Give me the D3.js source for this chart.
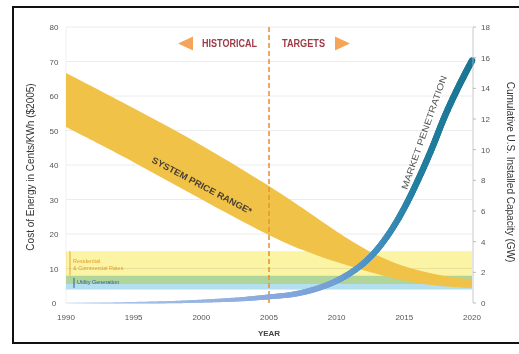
<!DOCTYPE html>
<html><head><meta charset="utf-8">
<script src="https://cdnjs.cloudflare.com/ajax/libs/d3/7.8.5/d3.min.js"></script>
<style>
html,body{margin:0;padding:0;background:#fff;}
svg{display:block;}
text{font-family:"Liberation Sans Narrow","Liberation Sans",Arial,sans-serif;}
</style></head>
<body><svg id="c" width="519" height="354"></svg>
<script>
// ---- data ----
const years = [1990, 1995, 2000, 2005, 2007.5, 2010, 2012.5, 2015, 2017.5, 2020];
const priceHigh = [66.7, 56.5, 46, 34, 27.5, 20.6, 14.5, 10.3, 8.0, 6.8];
const priceLow  = [51, 41, 30, 19.5, 15.2, 11.8, 8.8, 6.3, 4.9, 4.3];

const mktYears = [1990, 1993, 1995, 1998, 2000, 2003, 2005, 2007, 2008, 2009, 2010, 2011, 2012, 2013, 2014, 2015, 2016, 2017, 2018, 2019, 2020];
const mktGW    = [0, 0, 0.02, 0.06, 0.12, 0.25, 0.4, 0.6, 0.8, 1.08, 1.45, 1.95, 2.6, 3.5, 4.7, 6.2, 8.0, 10.0, 12.2, 14.1, 15.8];

const rateBands = [
  {name: "Residential & Commercial Rates", lo: 5.5, hi: 15},
  {name: "Utility Generation", lo: 3.9, hi: 7.9}
];
const leftTicks = [0, 10, 20, 30, 40, 50, 60, 70, 80];
const rightTicks = [0, 2, 4, 6, 8, 10, 12, 14, 16, 18];
const xTicks = [1990, 1995, 2000, 2005, 2010, 2015, 2020];
const splitYear = 2005;

// ---- scales ----
const svg = d3.select("#c");
const x = d3.scaleLinear().domain([1990, 2020]).range([66, 472]);
const yL = d3.scaleLinear().domain([0, 80]).range([303, 27]);
const yR = d3.scaleLinear().domain([0, 18]).range([303, 27]);

// frame
svg.append("rect").attr("x", 13).attr("y", 7).attr("width", 520).attr("height", 336)
  .attr("fill", "none").attr("stroke", "#111").attr("stroke-width", 2);

// gridlines
svg.append("g").selectAll("line").data(leftTicks.filter(d => d > 0)).join("line")
  .attr("x1", x(1990)).attr("x2", x(2020)).attr("y1", d => yL(d)).attr("y2", d => yL(d))
  .attr("stroke", "#ececec").attr("stroke-width", 1);
svg.append("line").attr("x1", x(1990)).attr("x2", x(1990)).attr("y1", yL(80)).attr("y2", yL(0))
  .attr("stroke", "#f0f0f0");

// rate bands
const bandCols = ["#fbf4a4", "#b3dff0"];
const bg = svg.append("g");
bg.append("rect").attr("x", x(1990)).attr("width", x(2020) - x(1990))
  .attr("y", yL(rateBands[1].hi)).attr("height", yL(rateBands[1].lo) - yL(rateBands[1].hi))
  .attr("fill", bandCols[1]);
bg.append("rect").attr("x", x(1990)).attr("width", x(2020) - x(1990))
  .attr("y", yL(rateBands[0].hi)).attr("height", yL(rateBands[0].lo) - yL(rateBands[0].hi))
  .attr("fill", bandCols[0]).style("mix-blend-mode", "multiply");

// band labels and brackets
svg.append("line").attr("x1", 70).attr("x2", 70).attr("y1", yL(rateBands[0].hi)).attr("y2", yL(8))
  .attr("stroke", "#e9a33a").attr("stroke-width", 1);
svg.append("text").attr("x", 73).attr("y", 263).attr("font-size", 5.5).attr("fill", "#e39a2e").text("Residential");
svg.append("text").attr("x", 73).attr("y", 270).attr("font-size", 5.5).attr("fill", "#e39a2e").text("& Commercial Rates");
svg.append("line").attr("x1", 74).attr("x2", 74).attr("y1", yL(7.3)).attr("y2", yL(4.4))
  .attr("stroke", "#2d5d9a").attr("stroke-width", 1);
svg.append("text").attr("x", 77).attr("y", 284).attr("font-size", 5.5).attr("fill", "#2d5d9a").text("Utility Generation");

// price range band
const priceData = years.map((y, i) => ({y, hi: priceHigh[i], lo: priceLow[i]}));
svg.append("path").datum(priceData)
  .attr("d", d3.area().x(d => x(d.y)).y0(d => yL(d.lo)).y1(d => yL(d.hi)).curve(d3.curveBasis))
  .attr("fill", "#f1c248");

// dashed split line
svg.append("line").attr("x1", x(splitYear)).attr("x2", x(splitYear)).attr("y1", yL(80)).attr("y2", yL(0))
  .attr("stroke", "#ec9530").attr("stroke-width", 1.6).attr("stroke-dasharray", "5,3");

// market penetration line
const defs = svg.append("defs");
const grad = defs.append("linearGradient").attr("id", "mg").attr("gradientUnits", "userSpaceOnUse")
  .attr("x1", x(1990)).attr("x2", x(2020)).attr("y1", 0).attr("y2", 0);
[[0, "#b3c8ec"], [0.5, "#8aaadd"], [0.66, "#729fd6"], [0.76, "#4490c2"], [0.86, "#227fa0"], [1, "#1a7592"]]
  .forEach(([o, c]) => grad.append("stop").attr("offset", o).attr("stop-color", c));
const mkt = mktYears.map((y, i) => ({y, v: mktGW[i]}));
const guide = svg.append("path").datum(mkt)
  .attr("d", d3.line().x(d => x(d.y)).y(d => yR(d.v)).curve(d3.curveMonotoneX))
  .attr("fill", "none").attr("stroke", "none");
const node = guide.node();
const L = node.getTotalLength();
const wScale = d3.scaleLinear().domain([1990, 1995, 2000, 2005, 2010, 2020]).range([0.4, 1.5, 3, 5, 6, 6.5]).clamp(true);
const pts = d3.range(0, L, 2).concat([L]).map(s => node.getPointAtLength(s));
const mg = svg.append("g").attr("stroke", "url(#mg)").attr("stroke-linecap", "round").attr("fill", "none");
for (let i = 1; i < pts.length; i++) {
  const a = pts[i - 1], b = pts[i];
  mg.append("line").attr("x1", a.x).attr("y1", a.y).attr("x2", b.x).attr("y2", b.y)
    .attr("stroke-width", wScale(x.invert((a.x + b.x) / 2)));
}

// axes: left
svg.append("g").selectAll("text").data(leftTicks).join("text")
  .attr("x", 54).attr("y", d => yL(d) + 3).attr("text-anchor", "middle")
  .attr("font-size", 8).attr("fill", "#555").text(d => d);
// right axis line + ticks
svg.append("line").attr("x1", x(2020) + 1).attr("x2", x(2020) + 1).attr("y1", yR(18)).attr("y2", yR(0))
  .attr("stroke", "#bbb").attr("stroke-width", 0.8);
svg.append("g").selectAll("line").data(rightTicks).join("line")
  .attr("x1", x(2020) + 1).attr("x2", x(2020) + 4).attr("y1", d => yR(d)).attr("y2", d => yR(d))
  .attr("stroke", "#aaa").attr("stroke-width", 0.8);
svg.append("g").selectAll("text").data(rightTicks).join("text")
  .attr("x", 481).attr("y", d => yR(d) + 3).attr("text-anchor", "start")
  .attr("font-size", 8).attr("fill", "#555").text(d => d);
// x axis labels
svg.append("g").selectAll("text").data(xTicks).join("text")
  .attr("x", d => x(d)).attr("y", 320).attr("text-anchor", "middle")
  .attr("font-size", 8).attr("fill", "#555").text(d => d);
svg.append("text").attr("x", x(2005)).attr("y", 336).attr("text-anchor", "middle")
  .attr("font-size", 8).attr("font-weight", "bold").attr("fill", "#444").text("YEAR");

// axis titles
svg.append("text").attr("transform", "translate(34,167) rotate(-90)").attr("text-anchor", "middle")
  .attr("font-size", 10).attr("fill", "#333").text("Cost of Energy in Cents/KWh ($2005)");
svg.append("text").attr("transform", "translate(507,172) rotate(90)").attr("text-anchor", "middle")
  .attr("font-size", 10).attr("fill", "#333").text("Cumulative U.S. Installed Capacity (GW)");

// HISTORICAL / TARGETS
svg.append("path").attr("d", "M178,43.5 L193,36.5 L193,50.5 Z").attr("fill", "#f5a45a");
svg.append("text").attr("x", 202).attr("y", 47).attr("font-size", 10).attr("font-weight", "bold")
  .attr("fill", "#9e3b47").attr("textLength", 55).attr("lengthAdjust", "spacingAndGlyphs").text("HISTORICAL");
svg.append("text").attr("x", 282).attr("y", 47).attr("font-size", 10).attr("font-weight", "bold")
  .attr("fill", "#9e3b47").attr("textLength", 43).attr("lengthAdjust", "spacingAndGlyphs").text("TARGETS");
svg.append("path").attr("d", "M350,43.5 L335,36.5 L335,50.5 Z").attr("fill", "#f5a45a");

// in-chart labels
svg.append("text").attr("transform", "translate(151,162) rotate(28)")
  .attr("font-size", 9).attr("fill", "#4a4030").attr("font-weight", "bold")
  .attr("textLength", 112).attr("lengthAdjust", "spacingAndGlyphs").text("SYSTEM PRICE RANGE*");
svg.append("text").attr("transform", "translate(407,190) rotate(-70.5)")
  .attr("font-size", 9).attr("fill", "#555")
  .attr("textLength", 120).attr("lengthAdjust", "spacingAndGlyphs").text("MARKET PENETRATION");
</script></body></html>
